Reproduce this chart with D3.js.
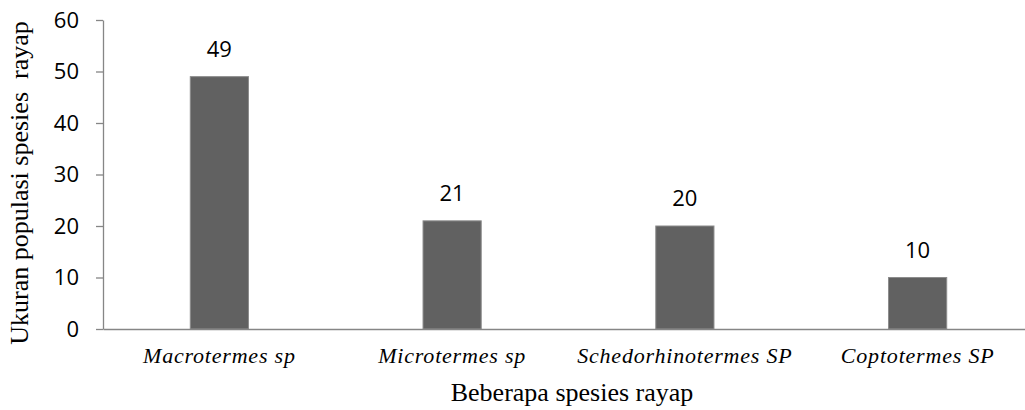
<!DOCTYPE html>
<html>
<head>
<meta charset="utf-8">
<script src="https://cdn.jsdelivr.net/npm/d3@7"></script>
<style>
  html, body { margin: 0; padding: 0; background: #fff; }
  svg { display: block; }
</style>
</head>
<body>
<div id="chart"></div>
<script>
// data
let categories = ["Macrotermes sp", "Microtermes sp", "Schedorhinotermes SP", "Coptotermes SP"];
let values = [49, 21, 20, 10];
let yTicks = [0, 10, 20, 30, 40, 50, 60];

let width = 1025, height = 410;
// plot area runs slightly past the right edge, like the original crop
let plot = { left: 103, right: 1034, top: 20, bottom: 329 };

let svg = d3.select("#chart").append("svg")
  .attr("width", width)
  .attr("height", height);

let x = d3.scaleBand().domain(categories).range([plot.left, plot.right]).padding(0);
let y = d3.scaleLinear().domain([0, 60]).range([plot.bottom, plot.top]);

let barW = x.bandwidth() * 0.25;

// bars
svg.selectAll("rect.bar").data(values).enter().append("rect")
  .attr("class", "bar")
  .attr("x", (d, i) => x(categories[i]) + (x.bandwidth() - barW) / 2)
  .attr("y", d => y(d))
  .attr("width", barW)
  .attr("height", d => y(0) - y(d))
  .attr("fill", "#616161")
  .attr("stroke", "#8c8c8c")
  .attr("stroke-width", 1);

// value labels
svg.selectAll("text.val").data(values).enter().append("text")
  .attr("class", "val")
  .attr("x", (d, i) => x(categories[i]) + x.bandwidth() / 2)
  .attr("y", d => y(d) - 20)
  .attr("text-anchor", "middle")
  .style("font-family", "'Open Sans', 'Noto Sans', sans-serif")
  .style("font-size", "22px")
  .attr("fill", "#000")
  .text(d => d);

// y axis
let yAxis = svg.append("g")
  .attr("transform", "translate(" + plot.left + ",0)")
  .call(d3.axisLeft(y).tickValues(yTicks).tickSize(7).tickPadding(17).tickSizeOuter(0));
yAxis.select(".domain").attr("stroke", "#868686").attr("stroke-width", 1.3);
yAxis.selectAll(".tick line").attr("stroke", "#868686").attr("stroke-width", 1.3);
yAxis.selectAll(".tick text")
  .style("font-family", "'Open Sans', 'Noto Sans', sans-serif")
  .style("font-size", "22px")
  .attr("fill", "#000");

// x axis
let xAxis = svg.append("g")
  .attr("transform", "translate(0," + plot.bottom + ")")
  .call(d3.axisBottom(x).tickSize(0).tickPadding(0).tickSizeOuter(0));
xAxis.select(".domain").attr("stroke", "#868686").attr("stroke-width", 1.3);
xAxis.selectAll(".tick text")
  .attr("y", 34)
  .attr("dy", null)
  .style("font-family", "'Liberation Serif', 'Times New Roman', serif")
  .style("font-style", "italic")
  .style("font-size", "22px")
  .style("letter-spacing", "0.8px")
  .attr("fill", "#000");

// axis titles
svg.append("text")
  .attr("x", 572)
  .attr("y", 401)
  .attr("text-anchor", "middle")
  .style("font-family", "'Liberation Serif', 'Times New Roman', serif")
  .style("font-size", "26px")
  .text("Beberapa spesies rayap");

svg.append("text")
  .attr("transform", "translate(28,183) rotate(-90)")
  .attr("text-anchor", "middle")
  .style("font-family", "'Liberation Serif', 'Times New Roman', serif")
  .style("font-size", "26px")
  .style("white-space", "pre")
  .text("Ukuran populasi spesies  rayap");
</script>
</body>
</html>
